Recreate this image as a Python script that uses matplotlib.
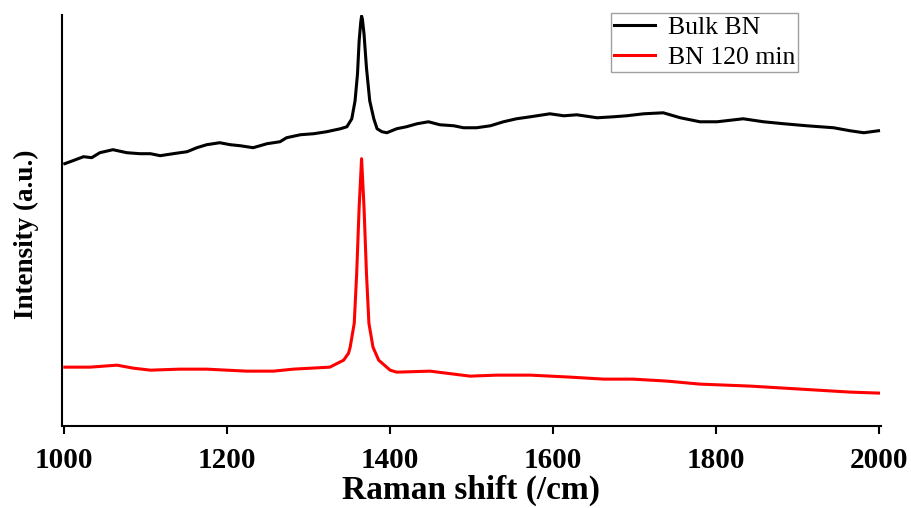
import numpy as np
import matplotlib
matplotlib.use('Agg')
import matplotlib.pyplot as plt

# Raman shift (/cm) and intensity (a.u.)
bulk_x = [1001, 1011, 1024, 1034, 1044, 1060, 1077, 1093, 1106, 1118,
          1134, 1151, 1163, 1175, 1191, 1204, 1216, 1232, 1249, 1265,
          1273, 1290, 1306, 1322, 1339, 1347, 1353, 1357, 1360, 1362,
          1364, 1365, 1366, 1368, 1371, 1375, 1380, 1384, 1390, 1396,
          1408, 1420, 1433, 1447, 1461, 1478, 1490, 1506, 1523, 1539,
          1555, 1572, 1596, 1613, 1629, 1654, 1674, 1690, 1711, 1735,
          1756, 1780, 1801, 1833, 1858, 1883, 1911, 1944, 1964, 1981, 1999]
bulk_y = [263, 266, 270, 269, 274, 277, 274, 273, 273, 271,
          273, 275, 279, 282, 284, 282, 281, 279, 283, 285,
          289, 292, 293, 295, 298, 300, 308, 326, 353, 386,
          405, 411, 408, 393, 359, 326, 308, 298, 295, 294,
          298, 300, 303, 305, 302, 301, 299, 299, 301, 305,
          308, 310, 313, 311, 312, 309, 310, 311, 313, 314,
          309, 305, 305, 308, 305, 303, 301, 299, 296, 294, 296]

bn120_x = [1001, 1032, 1065, 1085, 1106, 1142, 1175, 1224, 1257, 1281,
           1326, 1343, 1349, 1351, 1356, 1359, 1362, 1365, 1368, 1371,
           1374, 1379, 1386, 1400, 1408, 1449, 1498, 1531, 1572, 1621,
           1662, 1698, 1740, 1780, 1842, 1903, 1964, 1999]
bn120_y = [59, 59, 61, 58, 56, 57, 57, 55, 55, 57,
           59, 66, 73, 79, 103, 153, 219, 268, 219, 153,
           103, 79, 66, 56, 54, 55, 50, 51, 51, 49,
           47, 47, 45, 42, 40, 37, 34, 33]

xticks = [1000, 1200, 1400, 1600, 1800, 2000]

plt.rcParams['font.family'] = ['Liberation Serif', 'DejaVu Serif']

fig = plt.figure(figsize=(9.11, 5.08), dpi=100)
ax = fig.add_axes([0.068, 0.1614, 0.899, 0.809])

ax.plot(bulk_x, bulk_y, color='black', lw=2.2, label='Bulk BN')
ax.plot(bn120_x, bn120_y, color='#ff0000', lw=2.2, label='BN 120 min')

ax.set_xlim(997.5, 2002)
ax.set_ylim(0, 412)
ax.set_xticks(xticks)
ax.set_yticks([])
ax.tick_params(axis='x', direction='out', length=6, width=1.5, pad=9, labelsize=21)
for lab in ax.get_xticklabels():
    lab.set_fontweight('bold')

ax.spines['top'].set_visible(False)
ax.spines['right'].set_visible(False)
ax.spines['left'].set_linewidth(1.5)
ax.spines['bottom'].set_linewidth(1.5)

ax.set_xlabel('Raman shift (/cm)', fontsize=24, fontweight='bold', labelpad=1)
ax.set_ylabel('Intensity (a.u.)', fontsize=19.5, fontweight='bold')
ax.yaxis.set_label_coords(-0.028, 0.467)

leg = ax.legend(loc='upper left', bbox_to_anchor=(0.671, 1.005), fontsize=18.5,
                frameon=True, fancybox=False, edgecolor='#a0a0a0', framealpha=1,
                handlelength=1.6, handletextpad=0.5, labelspacing=0.3, borderpad=0.1,
                borderaxespad=0)
leg.get_frame().set_linewidth(1)

fig.savefig('out.png', dpi=100)
